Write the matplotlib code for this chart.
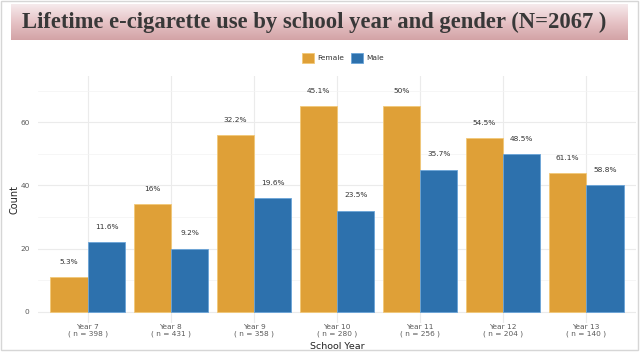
import numpy as np
import matplotlib
matplotlib.use("Agg")
import matplotlib.pyplot as plt
from matplotlib.patches import Rectangle, Patch
from matplotlib.colors import LinearSegmentedColormap

years = ["Year 7", "Year 8", "Year 9", "Year 10", "Year 11", "Year 12", "Year 13"]
n_sizes = [398, 431, 358, 280, 256, 204, 140]
female_counts = [11, 34, 56, 65, 65, 55, 44]
male_counts = [22, 20, 36, 32, 45, 50, 40]
female_pct = ["5.3%", "16%", "32.2%", "45.1%", "50%", "54.5%", "61.1%"]
male_pct = ["11.6%", "9.2%", "19.6%", "23.5%", "35.7%", "48.5%", "58.8%"]
title = "Lifetime e-cigarette use by school year and gender (N=2067 )"

W, H = 640, 358
fig = plt.figure(figsize=(W / 100, H / 100), dpi=100)
fig.patch.set_facecolor("white")

def fx(px):
    return px / W

def fy(py):
    return 1 - py / H

# outer frame
fig.add_artist(Rectangle((fx(1), fy(350)), fx(637), 349 / H, transform=fig.transFigure,
                         fill=False, edgecolor="#d6d6d6", lw=1.0))

# title banner with gradient
bax = fig.add_axes([fx(11), fy(40), fx(617), 36 / H])
grad = np.linspace(0, 1, 100).reshape(-1, 1)
cmap = LinearSegmentedColormap.from_list("banner", ["#f6eaec", "#e6c3c6", "#d3a3a6"])
bax.imshow(grad, aspect="auto", cmap=cmap, extent=[0, 1, 0, 1], origin="upper")
bax.set_xlim(0, 1)
bax.set_ylim(0, 1)
bax.axis("off")
fig.text(fx(314), fy(22), title, ha="center", va="center",
         fontfamily="Liberation Serif", fontweight="bold", fontsize=16.3, color="#383838")

# main panel
ax = fig.add_axes([fx(38), fy(323), fx(598), (323 - 76) / H])
x = np.arange(len(years))
bw = 0.45
fcol, mcol = "#DFA037", "#2D71AD"
ax.bar(x - bw / 2, female_counts, width=bw, color=fcol, edgecolor="#f2c878", lw=0.6, zorder=3)
ax.bar(x + bw / 2, male_counts, width=bw, color=mcol, edgecolor="#6aa4d8", lw=0.6, zorder=3)
for i in range(len(years)):
    ax.text(x[i] - bw / 2, female_counts[i] + 4.8, female_pct[i], ha="center", va="center",
            fontsize=5.3, color="#333333", zorder=4)
    ax.text(x[i] + bw / 2, male_counts[i] + 4.8, male_pct[i], ha="center", va="center",
            fontsize=5.3, color="#333333", zorder=4)

ax.set_xlim(-0.6, len(years) - 0.4)
ax.set_ylim(-3.55, 74.6)
ax.set_yticks([0, 20, 40, 60])
ax.set_yticks([10, 30, 50, 70], minor=True)
ax.set_xticks(x)
ax.set_xticklabels([f"{y}\n( n = {n} )" for y, n in zip(years, n_sizes)],
                   fontsize=5.3, color="#5a5a5a", linespacing=1.05)
ax.tick_params(axis="y", labelsize=5.3, labelcolor="#5a5a5a", length=0, pad=6)
ax.tick_params(axis="x", length=0, pad=1)
ax.tick_params(which="minor", length=0)
ax.grid(axis="y", which="major", color="#ebebeb", lw=0.8, zorder=0)
ax.grid(axis="y", which="minor", color="#f3f3f3", lw=0.5, zorder=0)
ax.grid(axis="x", which="major", color="#ebebeb", lw=0.8, zorder=0)
for s in ax.spines.values():
    s.set_visible(False)
ax.set_facecolor("white")
ax.set_ylabel("Count", fontsize=7, color="#222222")
ax.yaxis.set_label_coords((19 - 38) / 598, 0.5)
ax.set_xlabel("School Year", fontsize=6.8, color="#222222")
ax.xaxis.set_label_coords(0.5, (323 - 342) / 247)

handles = [Patch(facecolor=fcol, edgecolor="#f2c878", lw=0.6, label="Female"),
           Patch(facecolor=mcol, edgecolor="#6aa4d8", lw=0.6, label="Male")]
fig.legend(handles=handles, loc="center", bbox_to_anchor=(fx(343), fy(58)), ncol=2,
           frameon=False, fontsize=5.3, handlelength=1.6, handleheight=1.6,
           handletextpad=0.5, columnspacing=0.9, labelcolor="#333333")

fig.savefig("out.png", dpi=100)
